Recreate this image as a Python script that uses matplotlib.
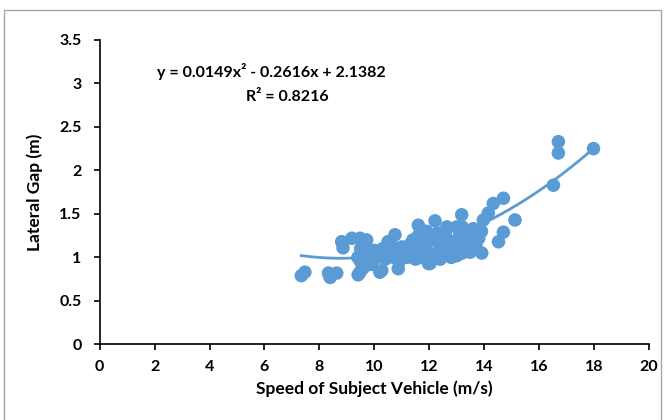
import matplotlib
matplotlib.use("Agg")
import matplotlib.pyplot as plt
import numpy as np
from matplotlib.patches import Rectangle

plt.rcParams['font.family'] = ['Lato', 'DejaVu Sans']

# Data (speed m/s, lateral gap m)
speed = [7.34, 7.47, 8.33, 8.39, 8.63, 8.81, 8.86, 9.18, 9.41, 9.48, 9.48, 9.72,
         10.2, 10.27, 10.87, 11.97, 12.03, 10.75, 11.6, 12.21, 12.64, 13.0, 13.18,
         13.6, 13.97, 14.15, 14.33, 14.7, 15.12, 14.7, 14.52, 13.91, 13.49,
         16.52, 16.70, 16.70, 17.98,
         9.4, 9.5, 9.6, 9.7, 9.8, 9.9, 9.5, 9.6, 10.0, 10.1,
         10.3, 10.4, 10.5, 10.6, 10.7, 10.8, 10.9, 11.0, 10.5,
         11.1, 11.2, 11.3, 11.4, 11.5, 11.6, 11.7, 11.8, 11.9, 11.5, 11.8, 11.9,
         12.0, 12.1, 12.2, 12.3, 12.4, 12.5, 12.6, 12.7, 12.8, 12.9, 12.3, 12.6, 12.4,
         13.0, 13.1, 13.2, 13.3, 13.4, 13.5, 13.7, 13.8, 13.9, 13.2, 13.0]
gap = [0.79, 0.83, 0.82, 0.77, 0.82, 1.18, 1.11, 1.22, 0.80, 0.83, 1.22, 1.20,
       0.83, 0.85, 0.87, 0.93, 0.93, 1.26, 1.37, 1.42, 1.35, 1.35, 1.49,
       1.33, 1.43, 1.51, 1.62, 1.68, 1.43, 1.29, 1.18, 1.05, 1.06,
       1.83, 2.33, 2.20, 2.25,
       1.00, 0.95, 1.05, 1.12, 1.00, 0.92, 1.10, 0.88, 1.08, 1.00,
       1.10, 0.98, 1.05, 1.15, 1.00, 1.08, 0.95, 1.12, 1.18,
       1.05, 1.00, 1.15, 1.20, 1.08, 1.25, 1.00, 1.12, 1.30, 0.98, 1.05, 1.18,
       1.05, 1.20, 1.00, 1.28, 1.12, 1.05, 1.22, 1.10, 1.00, 1.18, 1.05, 1.30, 0.98,
       1.12, 1.25, 1.05, 1.20, 1.10, 1.25, 1.15, 1.22, 1.30, 1.35, 1.02]

coef = [0.0149, -0.2616, 2.1382]
x_ticks = [0, 2, 4, 6, 8, 10, 12, 14, 16, 18, 20]
y_ticks = [0, 0.5, 1, 1.5, 2, 2.5, 3, 3.5]
y_tick_labels = ['0', '0.5', '1', '1.5', '2', '2.5', '3', '3.5']

color = '#5B9BD5'

fig = plt.figure(figsize=(6.67, 4.2), dpi=100)
ax = fig.add_axes([0.1495, 0.180, 0.8235, 0.725])

ax.scatter(speed, gap, s=95, color=color, edgecolors='none', zorder=3)

xs = np.linspace(min(speed), max(speed), 200)
ax.plot(xs, np.polyval(coef, xs), color=color, lw=2, zorder=2)

ax.set_xlim(0, 20)
ax.set_ylim(0, 3.5)
ax.set_xticks(x_ticks)
ax.set_yticks(y_ticks)
ax.set_yticklabels(y_tick_labels)
ax.tick_params(direction='out', length=4, width=1.2, labelsize=11.5, pad=7, colors='black')
ax.tick_params(axis='y', pad=9)
for lbl in ax.get_xticklabels() + ax.get_yticklabels():
    lbl.set_fontweight('bold')
for s in ['top', 'right']:
    ax.spines[s].set_visible(False)
for s in ['left', 'bottom']:
    ax.spines[s].set_linewidth(1.2)
    ax.spines[s].set_color('black')

ax.set_xlabel('Speed of Subject Vehicle (m/s)', fontsize=12.5, fontweight='bold', labelpad=5)
ax.set_ylabel('Lateral Gap (m)', fontsize=12.5, fontweight='bold', labelpad=12)

fig.text(271 / 667, 1 - 71 / 420, 'y = 0.0149x² - 0.2616x + 2.1382', ha='center', va='center',
         fontsize=11.5, fontweight='bold')
fig.text(287 / 667, 1 - 97 / 420, 'R² = 0.8216', ha='center', va='center',
         fontsize=11.5, fontweight='bold')

fig.patches.append(Rectangle((4 / 667, -0.05), 657 / 667, 1.05 - 10 / 420,
                             transform=fig.transFigure, fill=False,
                             edgecolor='#A6A6A6', lw=1.0))

fig.savefig('out.png', dpi=100)
